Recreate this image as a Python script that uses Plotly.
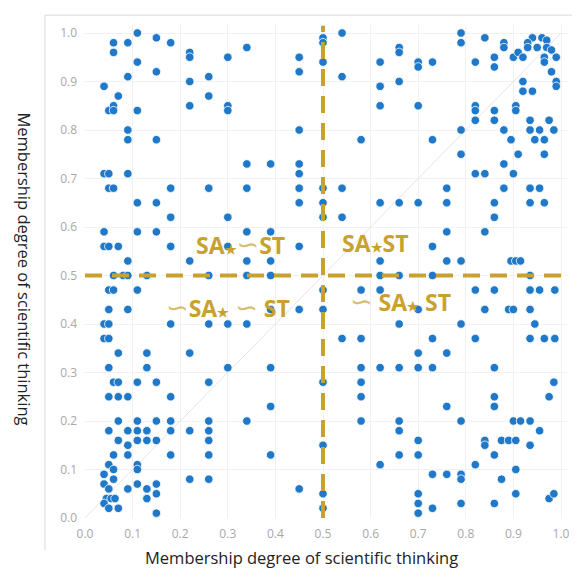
import plotly.graph_objects as go

# Membership degrees (x: SA, y: ST)
x_vals = [
    # upper-left
    0.11,0.06,0.09,0.15,0.18,0.06,0.22,0.22,0.30,0.34,0.45,0.45,0.11,0.15,0.09,0.22,0.26,0.04,0.07,0.26,
    0.05,0.06,0.06,0.11,0.22,0.30,0.30,0.09,0.09,0.15,0.45,
    0.04,0.05,0.09,0.05,0.06,0.18,0.26,0.34,0.34,0.39,0.45,0.45,0.45,0.45,0.11,0.15,0.18,0.30,0.04,0.11,
    0.15,0.34,0.39,0.04,0.05,0.07,0.18,0.30,0.45,0.09,0.22,0.34,0.39,
    # upper-right
    0.54,0.79,0.79,0.84,0.88,0.88,0.94,0.96,0.97,0.93,0.93,0.95,0.97,0.98,
    0.66,0.66,0.62,0.70,0.70,0.73,0.82,0.86,0.86,0.90,0.91,0.92,0.965,0.965,0.99,0.98,0.99,0.99,0.54,0.62,
    0.66,0.92,0.92,0.94,0.62,0.70,0.82,0.82,0.86,0.905,0.905,0.82,0.86,0.935,0.975,0.79,0.88,0.935,0.955,
    0.985,0.58,0.73,0.895,0.945,0.965,
    0.79,0.91,0.965,0.88,0.82,0.84,0.90,0.54,0.76,0.88,0.935,0.955,0.62,0.66,0.70,0.76,0.86,0.935,0.965,
    0.54,0.86,0.76,0.84,0.73,0.62,0.76,0.79,0.895,0.905,0.915,
    # on y = 0.5
    0.06,0.08,0.09,0.13,0.26,0.34,0.39,0.62,0.66,0.73,0.935,
    # on x = 0.5
    0.5,0.5,0.5,0.5,0.5,0.5,0.5,0.5,0.5,0.5,0.5,0.5,
    # lower-left
    0.05,0.06,0.11,0.05,0.09,0.39,0.45,0.04,0.05,0.18,0.26,0.30,0.34,0.04,0.05,0.07,0.13,0.22,0.05,0.13,
    0.30,0.39,0.06,0.07,0.11,0.15,0.26,0.05,0.07,0.09,0.18,0.39,
    0.07,0.11,0.15,0.18,0.26,0.34,0.05,0.09,0.11,0.13,0.18,0.22,0.26,0.07,0.11,0.13,0.15,0.26,0.09,0.06,
    0.09,0.18,0.26,0.39,0.05,0.11,0.11,0.06,0.04,0.06,0.22,0.26,0.04,0.05,0.09,0.11,0.13,0.15,0.15,0.45,
    0.045,0.055,0.063,0.13,0.04,0.05,0.07,0.15,
    # lower-right
    0.58,0.62,0.82,0.86,0.935,0.955,0.987,0.70,0.84,0.89,0.90,0.935,0.66,0.79,0.945,0.54,0.58,0.73,0.82,
    0.935,0.965,0.987,0.70,0.76,0.58,0.62,0.66,0.70,0.73,0.86,0.58,0.985,0.58,0.86,0.975,0.86,0.76,
    0.58,0.66,0.79,0.90,0.915,0.935,0.66,0.955,0.70,0.84,0.84,0.875,0.89,0.905,0.935,0.66,0.70,0.86,0.62,
    0.82,0.73,0.76,0.79,0.79,0.905,0.875,0.70,0.70,0.70,0.73,0.79,0.86,0.905,0.975,0.985,
]
y_vals = [
    # upper-left
    1.00,0.98,0.98,0.99,0.98,0.96,0.96,0.95,0.95,0.97,0.95,0.92,0.94,0.92,0.91,0.90,0.91,0.89,0.87,0.87,
    0.84,0.85,0.84,0.84,0.85,0.85,0.84,0.80,0.78,0.78,0.80,
    0.71,0.71,0.71,0.68,0.68,0.68,0.68,0.68,0.73,0.73,0.73,0.71,0.68,0.65,0.65,0.65,0.62,0.62,0.59,0.59,
    0.59,0.59,0.59,0.56,0.56,0.56,0.56,0.56,0.56,0.53,0.53,0.53,0.53,
    # upper-right
    1.00,1.00,0.98,0.99,0.98,0.97,0.99,0.99,0.985,0.98,0.97,0.97,0.97,0.965,
    0.97,0.96,0.94,0.94,0.93,0.94,0.94,0.95,0.93,0.95,0.96,0.95,0.95,0.94,0.95,0.92,0.90,0.89,0.91,0.89,
    0.90,0.90,0.88,0.88,0.85,0.85,0.85,0.84,0.84,0.85,0.84,0.82,0.82,0.82,0.82,0.80,0.80,0.80,0.80,
    0.80,0.78,0.78,0.78,0.78,0.78,
    0.75,0.75,0.75,0.73,0.71,0.71,0.71,0.68,0.68,0.68,0.68,0.68,0.65,0.65,0.65,0.65,0.65,0.65,0.65,
    0.62,0.62,0.59,0.59,0.56,0.53,0.53,0.53,0.53,0.53,0.53,
    # on y = 0.5
    0.5,0.5,0.5,0.5,0.5,0.5,0.5,0.5,0.5,0.5,0.5,
    # on x = 0.5
    0.99,0.98,0.94,0.68,0.65,0.62,0.47,0.43,0.28,0.15,0.05,0.02,
    # lower-left
    0.47,0.47,0.47,0.43,0.43,0.43,0.43,0.40,0.40,0.40,0.40,0.40,0.40,0.37,0.37,0.34,0.34,0.34,0.31,0.31,
    0.31,0.31,0.28,0.28,0.28,0.28,0.28,0.25,0.25,0.25,0.25,0.23,
    0.20,0.20,0.20,0.20,0.20,0.20,0.18,0.18,0.18,0.18,0.18,0.18,0.18,0.16,0.16,0.16,0.16,0.16,0.15,0.13,
    0.13,0.13,0.13,0.13,0.11,0.11,0.10,0.10,0.09,0.08,0.08,0.08,0.07,0.06,0.06,0.07,0.06,0.07,0.05,0.06,
    0.04,0.04,0.04,0.04,0.03,0.02,0.02,0.01,
    # lower-right
    0.47,0.47,0.47,0.47,0.47,0.47,0.47,0.43,0.43,0.43,0.43,0.43,0.40,0.40,0.40,0.37,0.37,0.37,0.37,
    0.37,0.37,0.37,0.34,0.34,0.31,0.31,0.31,0.31,0.31,0.31,0.28,0.28,0.25,0.25,0.25,0.23,0.23,
    0.20,0.20,0.20,0.20,0.20,0.20,0.18,0.18,0.16,0.16,0.15,0.16,0.16,0.16,0.15,0.13,0.13,0.13,0.11,
    0.11,0.09,0.09,0.09,0.08,0.10,0.08,0.05,0.03,0.01,0.02,0.03,0.03,0.05,0.04,0.05,
]

tick_vals = [0.0, 0.1, 0.2, 0.3, 0.4, 0.5, 0.6, 0.7, 0.8, 0.9, 1.0]
tick_text = ["0.0", "0.1", "0.2", "0.3", "0.4", "0.5", "0.6", "0.7", "0.8", "0.9", "1.0"]
axis_title = "Membership degree of scientific thinking"
threshold = 0.5

GOLD = "#C9A22E"
BLUE = "#1f78c8"
STAR = "<span style='font-size:13px'>★</span>"
TILDE = "<span style='font-weight:normal;font-family:DejaVu Sans;font-size:27px;fill:#d6be74'>∽</span>"
quadrant_labels = [
    ("SA" + STAR + TILDE + "ST", 0.326, 0.563),
    ("SA" + STAR + "ST", 0.611, 0.567),
    (TILDE + "SA" + STAR + " " + TILDE + " ST", 0.30, 0.433),
    (TILDE + " SA" + STAR + " ST", 0.662, 0.445),
]

fig = go.Figure()
fig.add_trace(go.Scatter(
    x=x_vals, y=y_vals, mode="markers",
    marker=dict(size=8.5, color=BLUE, line=dict(color="white", width=0.8)),
    hoverinfo="skip", showlegend=False,
))

shapes = [
    dict(type="line", xref="x", yref="y", x0=0, y0=0, x1=1, y1=1,
         line=dict(color="#e4e4e4", width=1), layer="between"),
    dict(type="line", xref="x", yref="y", x0=0, y0=threshold, x1=1.0, y1=threshold,
         line=dict(color=GOLD, width=4, dash="17px,10px")),
    dict(type="line", xref="x", yref="y", x0=threshold, y0=0, x1=threshold, y1=1.015,
         line=dict(color=GOLD, width=4, dash="17px,10px")),
    # card outline
    dict(type="line", xref="paper", yref="paper", x0=-0.083, y0=-0.065, x1=-0.083, y1=1.02,
         line=dict(color="#e6e6e6", width=1.5)),
    dict(type="line", xref="paper", yref="paper", x0=-0.083, y0=1.02, x1=1.05, y1=1.02,
         line=dict(color="#e6e6e6", width=1.5)),
]

annotations = [
    dict(text="<b>" + t + "</b>", x=xx, y=yy, xref="x", yref="y", showarrow=False,
         xanchor="center", yanchor="middle",
         font=dict(family="Open Sans", size=23, color=GOLD))
    for (t, xx, yy) in quadrant_labels
]
annotations.append(dict(text=axis_title, xref="paper", yref="paper", x=0.449, y=-0.081,
                        xanchor="center", yanchor="middle",
                        showarrow=False, font=dict(family="Open Sans", size=16.5, color="#222222")))
annotations.append(dict(text=axis_title, xref="paper", yref="paper", x=-0.126, y=0.506,
                        xanchor="center", yanchor="middle",
                        textangle=90, showarrow=False,
                        font=dict(family="Open Sans", size=16.5, color="#222222")))

axis_common = dict(
    tickvals=tick_vals, ticktext=tick_text, showgrid=True, gridcolor="#f1f1f1", gridwidth=1,
    zeroline=False, showline=False, ticks="", automargin=False,
    tickfont=dict(family="Open Sans", size=12, color="#a8a8a8"),
)

# page body adds an 8px offset, so margins are shifted by 8px
fig.update_layout(
    width=580, height=568,
    margin=dict(l=77, r=20, t=17, b=58),
    paper_bgcolor="white", plot_bgcolor="white",
    xaxis=dict(range=[0, 1.0147], ticklabelstandoff=7, **axis_common),
    yaxis=dict(range=[0, 1.0165], ticklabelstandoff=7, **axis_common),
    shapes=shapes, annotations=annotations,
)

fig.write_html("out.html")
